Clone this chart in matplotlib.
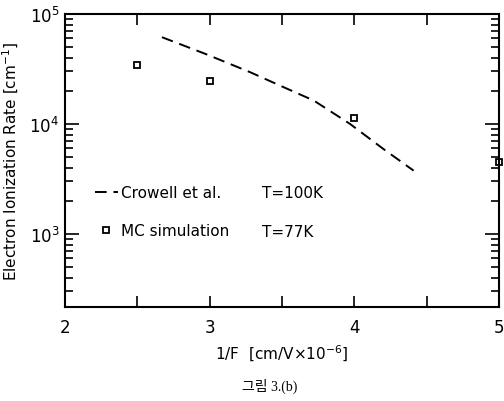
import matplotlib
matplotlib.use("Agg")
import matplotlib.pyplot as plt
from matplotlib.ticker import LogLocator, FixedLocator, NullFormatter

# Crowell et al. T=100K (dashed curve)
crowell_x = [2.67, 2.97, 3.28, 3.51, 3.72, 3.97, 4.20, 4.41]
crowell_y = [61400, 43300, 29500, 21600, 16300, 10000, 5930, 3760]

# MC simulation T=77K (open squares)
mc_x = [2.5, 3.0, 4.0, 5.0]
mc_y = [34400, 24400, 11300, 4500]

xticks = [2, 3, 4, 5]
xminor = [2.5, 3.5, 4.5]

plt.rcParams['font.family'] = ['DejaVu Sans']
fig = plt.figure(figsize=(5.04, 4.02), dpi=100)
ax = fig.add_axes([0.129, 0.234, 0.861, 0.729])

ax.plot(crowell_x, crowell_y, color='black', lw=1.4, dashes=(6, 3.5),
        label='Crowell et al.')
ax.plot(mc_x, mc_y, ls='none', marker='s', ms=5, mfc='white', mec='black',
        mew=1.3, clip_on=False, label='MC simulation')

ax.set_yscale('log')
ax.set_xlim(2, 5)
ax.set_ylim(217, 1e5)
ax.xaxis.set_major_locator(FixedLocator(xticks))
ax.xaxis.set_minor_locator(FixedLocator(xminor))
ax.yaxis.set_major_locator(LogLocator(base=10))
ax.yaxis.set_minor_locator(LogLocator(base=10, subs=range(2, 10)))
ax.yaxis.set_minor_formatter(NullFormatter())

ax.tick_params(which='both', direction='in', top=True, right=True, width=1.2,
               labelsize=12, colors='black')
ax.tick_params(axis='y', which='major', length=10, pad=4)
ax.tick_params(axis='y', which='minor', length=6)
ax.tick_params(axis='x', which='both', length=8, pad=8)
for s in ax.spines.values():
    s.set_linewidth(1.5)

ax.set_ylabel('Electron Ionization Rate [cm$^{-1}$]', fontsize=11, labelpad=6)
ax.set_xlabel('1/F  [cm/V$\\times$10$^{-6}$]', fontsize=11, labelpad=5)

ax.legend(loc='center left', bbox_to_anchor=(0.069, 0.326), frameon=False,
          fontsize=11, handlelength=1.5, handletextpad=0.2, labelspacing=1.5,
          borderpad=0, borderaxespad=0)
ax.text(0.454, 0.392, 'T=100K', transform=ax.transAxes, fontsize=11, va='center')
ax.text(0.454, 0.259, 'T=77K', transform=ax.transAxes, fontsize=11, va='center')

fig.text(0.536, 0.04, '그림 3.(b)', ha='center', va='center', fontsize=10,
         family=['Liberation Serif', 'Noto Sans CJK KR'])

fig.savefig('out.png', dpi=100)
